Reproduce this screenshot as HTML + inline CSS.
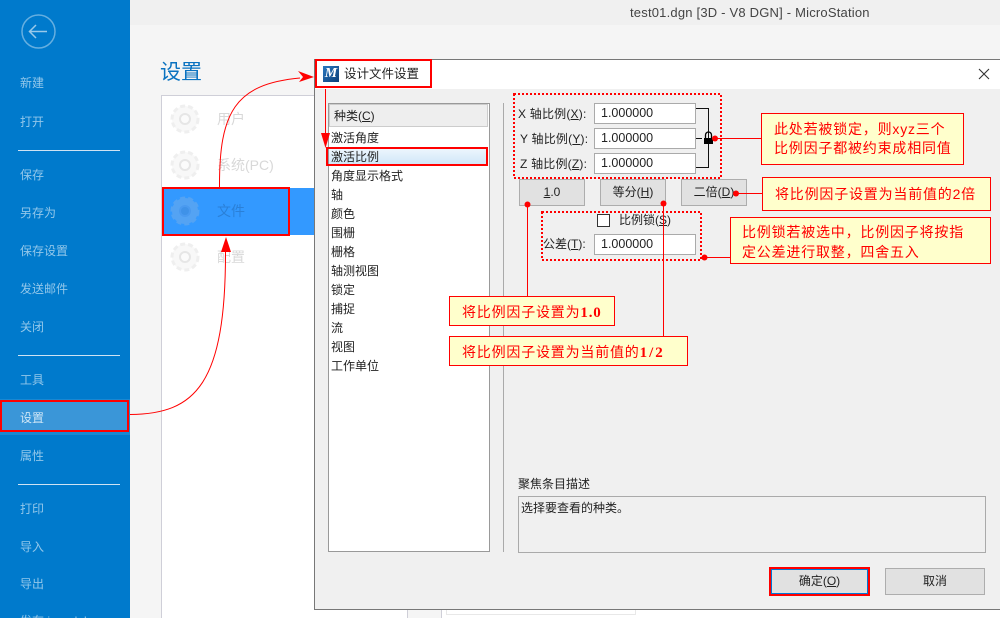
<!DOCTYPE html>
<html><head><meta charset="utf-8">
<style>
html,body{margin:0;padding:0;width:1000px;height:618px;overflow:hidden}
body{position:relative;background:#f5f5f5;font-family:"Liberation Sans","Noto Sans CJK SC",sans-serif;font-size:12px;color:#222}
div{position:absolute;box-sizing:border-box}
.t{white-space:nowrap;line-height:18px;height:18px}
.s{color:#92c7ea;font-size:12px;left:20px}
.d{left:18px;width:102px;height:1px;background:#cfe3f3}
.l{left:331px;font-size:12px;color:#222}
.i{left:594px;width:102px;height:21px;background:#fff;border:1px solid #aaa;font-size:12.500px;line-height:19px;padding-left:6px;color:#222}
.b{background:#e1e1e1;border:1px solid #adadad;text-align:center;font-size:12px;color:#222}
.n{background:#ffffcc;border:1px solid #f00;color:#f00;font-size:14px;white-space:nowrap;letter-spacing:.8px}
.n b{font-family:"Liberation Serif",serif;font-size:15px}
.g{color:#d8d8d8;font-size:14px;left:217px}
u{text-underline-offset:1px}
</style></head><body>
<div style="left:0;top:0;width:1000px;height:25px;background:#f0f0f0"></div>
<div class="t" style="left:630px;top:4px;font-size:13px;letter-spacing:.2px;color:#444">test01.dgn [3D - V8 DGN] - MicroStation</div>

<!-- sidebar -->
<div style="left:0;top:0;width:130px;height:618px;background:#007acc"></div>
<svg style="position:absolute;left:0;top:0" width="130" height="60"><circle cx="38.500" cy="31.500" r="16.500" fill="none" stroke="#66afe0" stroke-width="1.500"/><path d="M30 31.500H47M36 25l-6.500 6.500 6.500 6.500" fill="none" stroke="#99c9ea" stroke-width="1.500"/></svg>
<div class="t s" style="top:74px">新建</div>
<div class="t s" style="top:113px">打开</div>
<div class="d" style="top:150px"></div>
<div class="t s" style="top:166px">保存</div>
<div class="t s" style="top:204px">另存为</div>
<div class="t s" style="top:242px">保存设置</div>
<div class="t s" style="top:280px">发送邮件</div>
<div class="t s" style="top:318px">关闭</div>
<div class="d" style="top:355px"></div>
<div class="t s" style="top:371px">工具</div>
<div style="left:0;top:399px;width:130px;height:36px;background:#1a88d2"></div>
<div style="left:0;top:400px;width:129px;height:32px;background:#3a96d8;border:2px solid #f00"></div>
<div class="t s" style="top:409px;color:#cfe6f6">设置</div>
<div class="t s" style="top:447px">属性</div>
<div class="d" style="top:484px"></div>
<div class="t s" style="top:500px">打印</div>
<div class="t s" style="top:538px">导入</div>
<div class="t s" style="top:575px">导出</div>
<div class="t s" style="top:612px">发布 i-model</div>

<!-- settings -->
<div class="t" style="left:160px;top:59px;font-size:21px;line-height:28px;height:28px;color:#0a72c0">设置</div>
<div style="left:161px;top:95px;width:247px;height:530px;background:#fff;border:1px solid #cfcfd8"></div>
<div style="left:441px;top:590px;width:560px;height:40px;background:#fff;border-left:1px solid #cfcfd8"></div>
<div style="left:446px;top:590px;width:190px;height:25px;border:1px solid #e8e8e8;border-top:0"></div>
<div style="left:162px;top:188px;width:152px;height:47px;background:#3399ff"></div>
<svg style="position:absolute;left:165px;top:100px" width="45" height="175">
<g fill="#f8f8f8" stroke="#efefef" stroke-dasharray="5 3" stroke-width="3"><circle cx="20" cy="19" r="13"/><circle cx="20" cy="65" r="13"/><circle cx="20" cy="111" r="13" fill="#54a3f3" stroke="#54a3f3"/><circle cx="20" cy="157" r="13"/></g>
<g fill="#fbfbfb" stroke="#e6e6e6" stroke-width="2"><circle cx="20" cy="19" r="5"/><circle cx="20" cy="65" r="5"/><circle cx="20" cy="111" r="5" fill="#3f92e8" stroke="#4a9af0"/><circle cx="20" cy="157" r="5"/></g>
</svg>
<div class="t g" style="top:110px">用户</div>
<div class="t g" style="top:156px">系统(PC)</div>
<div class="t g" style="top:202px;color:#2a80d8">文件</div>
<div class="t g" style="top:248px">配置</div>
<div style="left:162px;top:187px;width:128px;height:49px;border:2px solid #f00"></div>

<!-- dialog -->
<div style="left:314px;top:59px;width:700px;height:551px;background:#f0f0f0;border:1px solid #777"></div>
<div style="left:315px;top:60px;width:690px;height:29px;background:#fff"></div>
<div style="left:323px;top:66px;width:16px;height:16px;background:linear-gradient(135deg,#2a78c0,#0c3f78);color:#fff;font:italic bold 14px/15px 'Liberation Serif',serif;text-align:center">M</div>
<div class="t" style="left:344px;top:65px;font-size:12.500px;color:#222">设计文件设置</div>
<svg style="position:absolute;left:976px;top:66px" width="16" height="16"><path d="M3 3L13 13M13 3L3 13" stroke="#333" stroke-width="1.100"/></svg>
<div style="left:315px;top:59px;width:117px;height:29px;border:2px solid #f00"></div>

<!-- list -->
<div style="left:328px;top:103px;width:162px;height:449px;background:#fff;border:1px solid #999"></div>
<div style="left:329px;top:104px;width:159px;height:23px;background:#eee;border:1px solid #ccc"></div>
<div class="t" style="left:334px;top:107px;color:#222">种类(<u>C</u>)</div>
<div class="t l" style="top:129px">激活角度</div>
<div style="left:329px;top:148px;width:158px;height:17px;background:linear-gradient(#eef6fd,#cfe6f8)"></div>
<div class="t l" style="top:148px">激活比例</div>
<div style="left:326px;top:147px;width:162px;height:19px;border:2px solid #f00"></div>
<div class="t l" style="top:167px">角度显示格式</div>
<div class="t l" style="top:186px">轴</div>
<div class="t l" style="top:205px">颜色</div>
<div class="t l" style="top:224px">围栅</div>
<div class="t l" style="top:243px">栅格</div>
<div class="t l" style="top:262px">轴测视图</div>
<div class="t l" style="top:281px">锁定</div>
<div class="t l" style="top:300px">捕捉</div>
<div class="t l" style="top:319px">流</div>
<div class="t l" style="top:338px">视图</div>
<div class="t l" style="top:357px">工作单位</div>
<div style="left:503px;top:103px;width:1px;height:449px;background:#aaa"></div>

<!-- fields -->
<div class="t" style="left:518px;top:105px;letter-spacing:.2px">X 轴比例(<u>X</u>):</div>
<div class="t" style="left:520px;top:130px;letter-spacing:.2px">Y 轴比例(<u>Y</u>):</div>
<div class="t" style="left:520px;top:155px;letter-spacing:.2px">Z 轴比例(<u>Z</u>):</div>
<div class="i" style="top:103px">1.000000</div>
<div class="i" style="top:128px">1.000000</div>
<div class="i" style="top:153px">1.000000</div>
<svg style="position:absolute;left:695px;top:100px" width="30" height="75"><path d="M1 8.500H13.500V67.500H1M1 38.500H7" fill="none" stroke="#111"/><rect x="9" y="38" width="9" height="6" fill="#000"/><path d="M10.500 38V35a3 3 0 0 1 6 0V38" fill="none" stroke="#000" stroke-width="1.300"/></svg>

<div class="b" style="left:519px;top:179px;width:66px;height:27px;line-height:25px"><u>1</u>.0</div>
<div class="b" style="left:600px;top:179px;width:66px;height:27px;line-height:25px">等分(<u>H</u>)</div>
<div class="b" style="left:681px;top:179px;width:66px;height:27px;line-height:25px">二倍(<u>D</u>)</div>

<div style="left:597px;top:214px;width:13px;height:13px;background:#fff;border:1px solid #333"></div>
<div class="t" style="left:619px;top:211px">比例锁(<u>S</u>)</div>
<div class="t" style="left:543px;top:235px">公差(<u>T</u>):</div>
<div class="i" style="top:234px">1.000000</div>

<!-- description -->
<div class="t" style="left:518px;top:475px">聚焦条目描述</div>
<div style="left:518px;top:496px;width:468px;height:57px;border:1px solid #aaa"></div>
<div class="t" style="left:521px;top:499px">选择要查看的种类。</div>
<div class="b" style="left:771px;top:569px;width:97px;height:25px;line-height:23px;border-color:#0078d7">确定(<u>O</u>)</div>
<div style="left:769px;top:567px;width:101px;height:29px;border:2px solid #f00"></div>
<div class="b" style="left:885px;top:568px;width:100px;height:27px;line-height:25px">取消</div>

<!-- connectors -->
<svg style="position:absolute;left:0;top:0" width="1000" height="618">
<g fill="none" stroke="#f00" stroke-width="2" stroke-dasharray="2 2">
<rect x="514" y="94" width="207" height="84"/>
<rect x="542" y="212" width="159" height="48"/>
</g>
<g fill="none" stroke="#f00" stroke-width="1">
<path d="M130 414.500C195 414 226 385 225.500 250"/>
<path d="M219.500 188C219 112 235 84 300 78"/>
<path d="M325.500 89V135"/>
<path d="M527.500 205V296"/>
<path d="M663.500 203V336"/>
<path d="M713 138.500H761"/>
<path d="M736 193.500H762"/>
<path d="M704 257.500H730"/>
</g>
<g fill="#f00">
<path d="M314 77L298 71L303 77L299 82Z"/>
<path d="M226 237L221 252L231 252Z"/>
<path d="M325.500 148L321 133L330 133Z"/>
<circle cx="715" cy="138.500" r="3"/>
<circle cx="736" cy="193.500" r="3"/>
<circle cx="704.500" cy="257.500" r="3"/>
<circle cx="527.500" cy="204.500" r="3"/>
<circle cx="663.500" cy="203.500" r="3"/>
</g>
</svg>

<!-- notes -->
<div class="n" style="left:761px;top:113px;width:203px;height:52px;padding:6px 0 0 12px;line-height:19px">此处若被锁定，则xyz三个<br>比例因子都被约束成相同值</div>
<div class="n" style="left:762px;top:177px;width:229px;height:34px;line-height:33px;padding-left:12px">将比例因子设置为当前值的2倍</div>
<div class="n" style="left:730px;top:217px;width:261px;height:47px;padding:4px 0 0 11px;line-height:20px">比例锁若被选中，比例因子将按指<br>定公差进行取整，四舍五入</div>
<div class="n" style="left:449px;top:296px;width:166px;height:30px;line-height:30px;padding-left:12px">将比例因子设置为<b>1.0</b></div>
<div class="n" style="left:449px;top:336px;width:239px;height:30px;line-height:30px;padding-left:12px">将比例因子设置为当前值的<b style="letter-spacing:2px">1/2</b></div>
</body></html>
